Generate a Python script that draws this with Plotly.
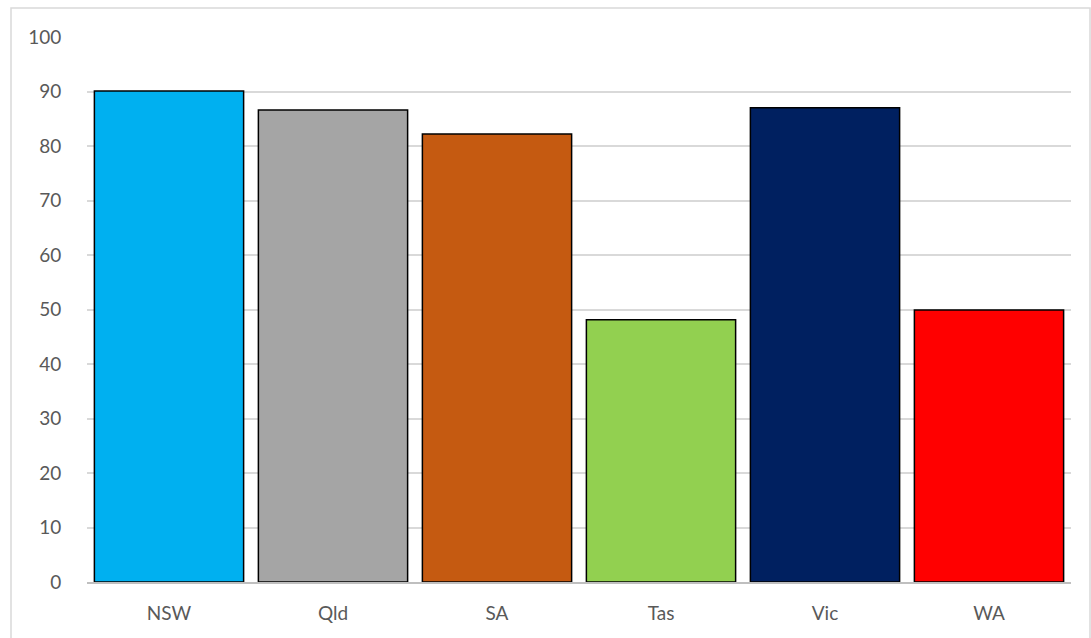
import plotly.graph_objects as go

categories = ["NSW", "Qld", "SA", "Tas", "Vic", "WA"]
values = [90.1, 86.6, 82.2, 48.1, 87.0, 49.9]
colors = ["#00B0F0", "#A5A5A5", "#C55A11", "#92D050", "#002060", "#FF0000"]
y_ticks = list(range(0, 101, 10))

fig = go.Figure(go.Bar(
    x=categories, y=values,
    marker=dict(color=colors, line=dict(color="black", width=1.5)),
))

L, R, T, B = 87, 20, 37, 56
W, H = 1091, 638
pw, ph = W - L - R, H - T - B

def px_x(p):
    return (p - L) / pw

def px_y(p):
    return (H - B - p) / ph

fig.update_layout(
    width=W, height=H,
    margin=dict(l=L, r=R, t=T, b=B),
    paper_bgcolor="white", plot_bgcolor="white",
    bargap=0.09,
    showlegend=False,
    font=dict(family="Lato, Open Sans, sans-serif", size=19, color="#595959"),
    xaxis=dict(showgrid=False, showline=True, linecolor="#BFBFBF", linewidth=1.5,
               ticks="outside", ticklen=13, tickcolor="rgba(0,0,0,0)",
               tickfont=dict(size=19, color="#595959")),
    yaxis=dict(range=[0, 100], tickvals=y_ticks, showgrid=True, gridcolor="#D9D9D9",
               gridwidth=1.5, zeroline=False, showline=False,
               ticks="outside", ticklen=21, tickcolor="rgba(0,0,0,0)",
               tickfont=dict(size=19, color="#595959")),
    shapes=[dict(type="rect", xref="paper", yref="paper",
                 x0=px_x(11), x1=px_x(1090), y0=px_y(645), y1=px_y(8),
                 line=dict(color="#D9D9D9", width=1.5), fillcolor="rgba(0,0,0,0)",
                 layer="below")],
)

fig.write_html("out.html")
